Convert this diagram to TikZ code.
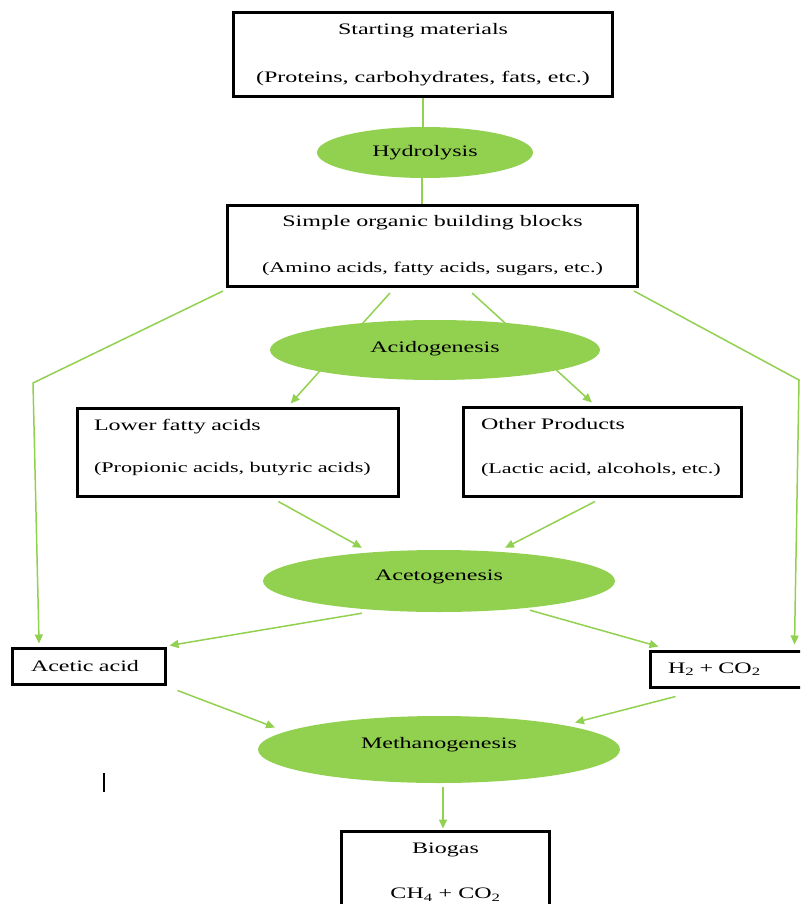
\documentclass[tikz,border=0pt]{standalone}
\usepackage{fontspec}
\setmainfont[FakeStretch=1.5]{Liberation Serif}
\usetikzlibrary{shapes.geometric,arrows.meta,calc}
\pgfdeclarelayer{bg}
\pgfsetlayers{bg,main}
\definecolor{lgreen}{HTML}{92D050}
\newcommand{\smallline}[1]{{\fontsize{14.8}{17.8}\selectfont #1}}
\begin{document}
\begin{tikzpicture}[x=1pt,y=-1pt,
  box/.style={draw=black,line width=3pt,rectangle,inner sep=0pt,font=\fontsize{16}{19}\selectfont,align=center},
  lbox/.style={box,align=left},
  stage/.style={ellipse,fill=lgreen,inner sep=0pt,font=\fontsize{16}{19}\selectfont},
  conn/.style={draw=lgreen,line width=1.5pt},
  arr/.style={conn,-{Triangle[length=9pt,width=8pt]}}]
\useasboundingbox (0,0) rectangle (800,904);
\clip (0,0) rectangle (800,904);

\node[box,minimum width=379pt,minimum height=84pt] (b1) at (423,54.5)
  {Starting materials\\[29pt](Proteins, carbohydrates, fats, etc.)};
\node[stage,minimum width=216pt,minimum height=51pt] (hyd) at (425,152.5) {Hydrolysis};
\node[box,minimum width=410pt,minimum height=81pt] (b2) at (432.5,246)
  {Simple organic building blocks\\[27pt]\smallline{(Amino acids, fatty acids, sugars, etc.)}};
\node[stage,minimum width=330pt,minimum height=60pt,text height=8pt,text depth=3.4pt] (acid) at (435,350) {Acidogenesis};
\node[lbox,minimum width=321pt,minimum height=88pt,inner xsep=17pt,text width=287pt] (lfa) at (237.5,452)
  {\mbox{Lower fatty acids}\\[23pt]\mbox{\smallline{(Propionic acids, butyric acids)}}\\[-7.5pt]\mbox{}};
\node[lbox,minimum width=278pt,minimum height=89pt,inner xsep=18pt,text width=242pt] (op) at (602,451.5)
  {\mbox{Other Products}\\[25pt]\mbox{\smallline{(Lactic acid, alcohols, etc.)}}\\[-7.5pt]\mbox{}};
\node[stage,minimum width=352pt,minimum height=62pt,text height=4pt,text depth=5.4pt] (aceto) at (439,581) {Acetogenesis};
\node[lbox,minimum width=153pt,minimum height=36pt,inner xsep=19pt,text width=115pt] (aa) at (88.5,666)
  {\mbox{Acetic acid}};
\node[lbox,minimum width=160pt,minimum height=36pt,inner xsep=18pt,text width=124pt] (h2) at (730,669)
  {\mbox{H\textsubscript{2} + CO\textsubscript{2}}};
\node[stage,minimum width=362pt,minimum height=67pt,text height=3pt,text depth=5.4pt] (meth) at (439,749.5) {Methanogenesis};
\node[box,minimum width=208pt,minimum height=81pt] (bio) at (445.5,872)
  {Biogas\\[26pt]CH\textsubscript{4} + CO\textsubscript{2}};

\coordinate (lbend) at (33,383);
\coordinate (rbend) at (799,380);
\coordinate (mb) at ($(meth.south)+(4,4)$);

\begin{pgfonlayer}{bg}
\draw[conn] (b1.south) -- (b1.south |- hyd.north);
\draw[conn] ($(hyd.south)+(-3,0)$) -- ($(b2.north)+(-10.5,0)$);
\draw[arr] ($(b2.south west)!0.397!(b2.south east)+(0,5)$) -- ($(lfa.north west)!0.664!(lfa.north east)+(0,-3)$);
\draw[arr] ($(b2.south west)!0.596!(b2.south east)+(0,5)$) -- ($(op.north west)!0.464!(op.north east)+(0,-3)$);
\draw[arr] ($(b2.south west)+(-3,3)$) -- (lbend) -- ($(aa.north west)!0.183!(aa.north east)+(0,-3)$);
\draw[arr] ($(b2.south east)+(-5,3)$) -- (rbend) -- ($(h2.north west)+(146,-5)$);
\draw[arr] ($(lfa.south west)!0.626!(lfa.south east)+(0,4)$) -- ($(aceto.north)+(-77,-2)$);
\draw[arr] ($(op.south west)!0.475!(op.south east)+(0,4)$) -- ($(aceto.north)+(66,-2)$);
\draw[arr] ($(aceto.south)+(-77,1)$) -- ($(aa.north east)+(3,-1)$);
\draw[arr] ($(aceto.south)+(91,-2)$) -- ($(h2.north west)+(10,-3)$);
\draw[arr] ($(aa.south east)+(11,5)$) -- ($(meth.center)+(-164,-22)$);
\draw[arr] ($(h2.south west)+(27,8)$) -- ($(meth.center)+(136,-27)$);
\draw[arr,shorten >=1.5pt] (mb) -- (mb |- bio.north);
\end{pgfonlayer}

\draw[line width=1.2pt] (104,773) -- (104,792);
\end{tikzpicture}
\end{document}
